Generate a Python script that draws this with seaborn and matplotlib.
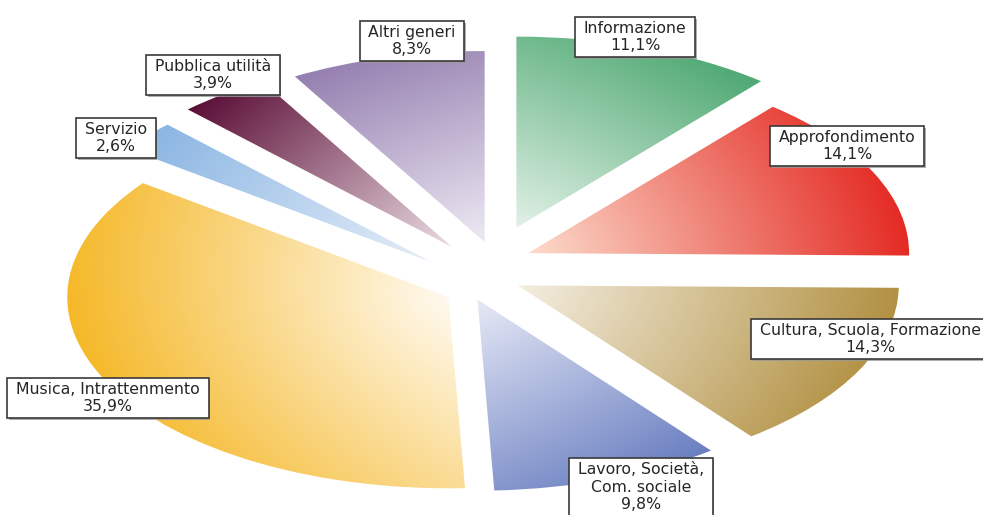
import numpy as np
import matplotlib
matplotlib.use("Agg")
import matplotlib.pyplot as plt
import seaborn as sns
from matplotlib.colors import to_rgb
from matplotlib.path import Path
from matplotlib import patheffects as pe

# ---------------- data ----------------
categories = ["Informazione", "Approfondimento", "Cultura, Scuola, Formazione",
              "Lavoro, Società,\nCom. sociale", "Musica, Intrattenmento",
              "Servizio", "Pubblica utilità", "Altri generi"]
shares = [11.1, 14.1, 14.3, 9.8, 35.9, 2.6, 3.9, 8.3]

# ---------------- style ----------------
deep_colors = ["#4fa973", "#e42b24", "#b29143", "#6a7fc1",
               "#f5b828", "#88b4e2", "#5b0f37", "#957fb0"]
light_colors = ["#e2f1e7", "#fcdccc", "#f4eee1", "#e6e9f6",
                "#fffaf0", "#e6eef9", "#eadbe2", "#eeeaf4"]
explode = [0.264, 0.136, 0.099, 0.065, 0.115, 0.172, 0.157, 0.146]
# extra sideways nudge of each exploded slice, in pixels (right, down)
nudge_px = [(-2, -2), (-3, -13), (0, 0), (-15, 11),
            (3, 10), (-3, 7), (4, -6), (15, -8)]
# label box centres in pixels (x from left, y from top)
label_px = [(635, 37), (847, 146), (870, 339), (641, 487),
            (108, 398), (116, 138), (213, 75), (412, 41)]

W, H = 983, 515
CX, CY = 484, 277          # pie centre in pixels
RX, RY = 381, 191          # pie radii in pixels

sns.set_theme(style="white")
plt.rcParams["font.family"] = ["DejaVu Sans"]

fig = plt.figure(figsize=(W / 100, H / 100), dpi=100)
ax = fig.add_axes([0, 0, 1, 1])

wedges, _ = ax.pie(shares, explode=explode, startangle=90, counterclock=False,
                   radius=1, wedgeprops=dict(linewidth=0))

x0, x1 = -CX / RX, (W - CX) / RX
y0, y1 = -(H - CY) / RY, CY / RY

xs = np.linspace(x0, x1, W)
ys = np.linspace(y0, y1, H)
X, Y = np.meshgrid(xs, ys)

for w, col, lcol, (nx, ny) in zip(wedges, deep_colors, light_colors, nudge_px):
    cx0, cy0 = w.center
    w.set_center((cx0 + nx / RX, cy0 - ny / RY))
    w.set_facecolor("none")
    w.set_edgecolor("none")
    base = np.array(to_rgb(col))
    light = np.array(to_rgb(lcol))
    cx, cy = w.center
    m = np.deg2rad((w.theta1 + w.theta2) / 2)
    d = np.array([RX * np.cos(m), RY * np.sin(m)])
    d /= np.linalg.norm(d)
    lin = (X - cx) * RX * d[0] + (Y - cy) * RY * d[1]
    angs = np.deg2rad(np.linspace(w.theta1, w.theta2, 300))
    mx = np.max(RX * np.cos(angs) * d[0] + RY * np.sin(angs) * d[1])
    lin = np.clip(lin / mx, 0, 1)
    rad = np.clip(np.hypot(X - cx, Y - cy), 0, 1)
    t = np.clip(0.6 * lin + 0.4 * rad, 0, 1)
    rgb = light + (base - light) * t[..., None]
    im = ax.imshow(rgb, extent=(x0, x1, y0, y1), origin="lower",
                   interpolation="bilinear", aspect="auto", zorder=1)
    im.set_clip_path(w)

ax.set_aspect("auto")
ax.set_xlim(x0, x1)
ax.set_ylim(y0, y1)
ax.axis("off")


def label_box(x0, y0, width, height, mutation_size):
    px = 0.55 * mutation_size
    py = 0.25 * mutation_size
    xa, ya = x0 - px, y0 - py
    xb, yb = x0 + width + px, y0 + height + py
    return Path([(xa, ya), (xb, ya), (xb, yb), (xa, yb), (xa, ya)], closed=True)


for name, val, (lx, ly) in zip(categories, shares, label_px):
    pct = f"{val:.1f}%".replace(".", ",")
    txt = f"{name}\n{pct}"
    t = fig.text(lx / W, 1 - ly / H, txt, ha="center", va="center",
                 multialignment="center", fontsize=11.3, color="#262626",
                 linespacing=1.2, zorder=5,
                 bbox=dict(boxstyle=label_box, fc="white", ec="#3a3a3a", lw=1.2))
    t.get_bbox_patch().set_path_effects(
        [pe.SimplePatchShadow(offset=(1.2, -1.2), shadow_rgbFace="#9a9a9a", alpha=0.8),
         pe.Normal()])

fig.savefig("out.png", dpi=100)
